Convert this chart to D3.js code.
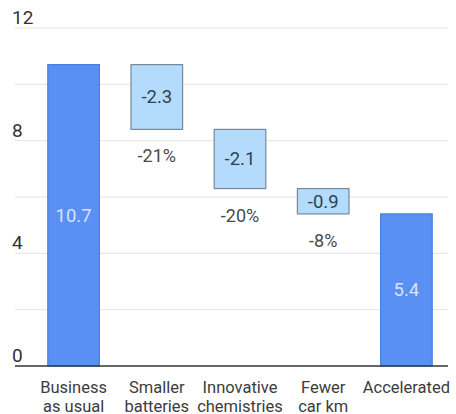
<!DOCTYPE html>
<html>
<head>
<meta charset="utf-8">
<script src="https://cdnjs.cloudflare.com/ajax/libs/d3/7.8.5/d3.min.js"></script>
<style>
    body { margin: 0; background: #fff; }
    svg { display: block; font-family: Roboto, "Noto Sans", sans-serif; }
</style>
</head>
<body>
<svg id="chart" width="456" height="414"></svg>
<script>
// waterfall data
const categories = [["Business", "as usual"], ["Smaller", "batteries"], ["Innovative", "chemistries"], ["Fewer", "car km"], ["Accelerated"]];
const values = [10.7, -2.3, -2.1, -0.9, 5.4];
const barTypes = ["total", "delta", "delta", "delta", "total"];
const pctLabels = ["", "-21%", "-20%", "-8%", ""];
const yTicks = [0, 2, 4, 6, 8, 10, 12];
const yTickLabels = ["0", "", "4", "", "8", "", "12"];

const waterfall = {
    build: function () {
        let running = 0;
        return values.map((v, i) => {
            let d = { idx: i, value: v, type: barTypes[i], pct: pctLabels[i], label: categories[i] };
            if (d.type === "total") {
                d.y0 = 0;
                d.y1 = v;
                running = v;
            } else {
                d.y0 = running + v;
                d.y1 = running;
                running = running + v;
            }
            return d;
        });
    },

    draw: function (selector) {
        let data = this.build();
        let svg = d3.select(selector);

        let x = d3.scaleBand()
            .domain(data.map(d => d.idx))
            .range([32, 448])
            .paddingInner(0.38)
            .paddingOuter(0.19);

        let y = d3.scaleLinear().domain([0, 12]).range([366, 28]);

        // gridlines + tick labels
        let grid = svg.append("g")
            .selectAll("g")
            .data(yTicks)
            .enter()
            .append("g")
            .attr("transform", d => "translate(0," + y(d) + ")");

        grid.filter(d => d !== 0)
            .append("line")
            .attr("x1", 15).attr("x2", 448)
            .style("stroke", "#e3e3e3")
            .style("stroke-width", "1px");

        grid.append("text")
            .attr("x", 12)
            .attr("y", -4)
            .text((d, i) => yTickLabels[i])
            .style("font-size", "19px")
            .style("fill", "#333");

        let bars = svg.append("g")
            .selectAll("g")
            .data(data)
            .enter()
            .append("g");

        bars.append("rect")
            .attr("x", d => x(d.idx))
            .attr("y", d => y(d.y1))
            .attr("width", x.bandwidth())
            .attr("height", d => y(d.y0) - y(d.y1))
            .style("fill", d => d.type === "total" ? "#5a8ff4" : "#b4dbfb")
            .style("stroke", d => d.type === "total" ? "#4a7edf" : "#76889a")
            .style("stroke-width", "1.2px");

        bars.append("text")
            .attr("x", d => x(d.idx) + x.bandwidth() / 2)
            .attr("y", d => (y(d.y0) + y(d.y1)) / 2)
            .attr("dy", "0.35em")
            .attr("text-anchor", "middle")
            .text(d => d.value.toFixed(1))
            .style("font-size", "18.5px")
            .style("fill", d => d.type === "total" ? "#d6e4fd" : "#2d4256");

        bars.filter(d => d.pct)
            .append("text")
            .attr("x", d => x(d.idx) + x.bandwidth() / 2)
            .attr("y", d => y(d.y0) + 33)
            .attr("text-anchor", "middle")
            .text(d => d.pct)
            .style("font-size", "18px")
            .style("fill", "#4a4a4a");

        // baseline
        svg.append("line")
            .attr("x1", 15).attr("x2", 448)
            .attr("y1", y(0)).attr("y2", y(0))
            .style("stroke", "#333")
            .style("stroke-width", "1.5px");

        // category labels
        let cat = svg.append("g")
            .selectAll("text")
            .data(data)
            .enter()
            .append("text")
            .attr("text-anchor", "middle")
            .style("font-size", "16.5px")
            .style("fill", "#3c3c3c");

        cat.selectAll("tspan")
            .data(d => d.label.map(l => ({ l: l, idx: d.idx })))
            .enter()
            .append("tspan")
            .attr("x", d => x(d.idx) + x.bandwidth() / 2)
            .attr("y", (d, i) => 393 + i * 18.5)
            .text(d => d.l);
    }
};

waterfall.draw("#chart");
</script>
</body>
</html>
